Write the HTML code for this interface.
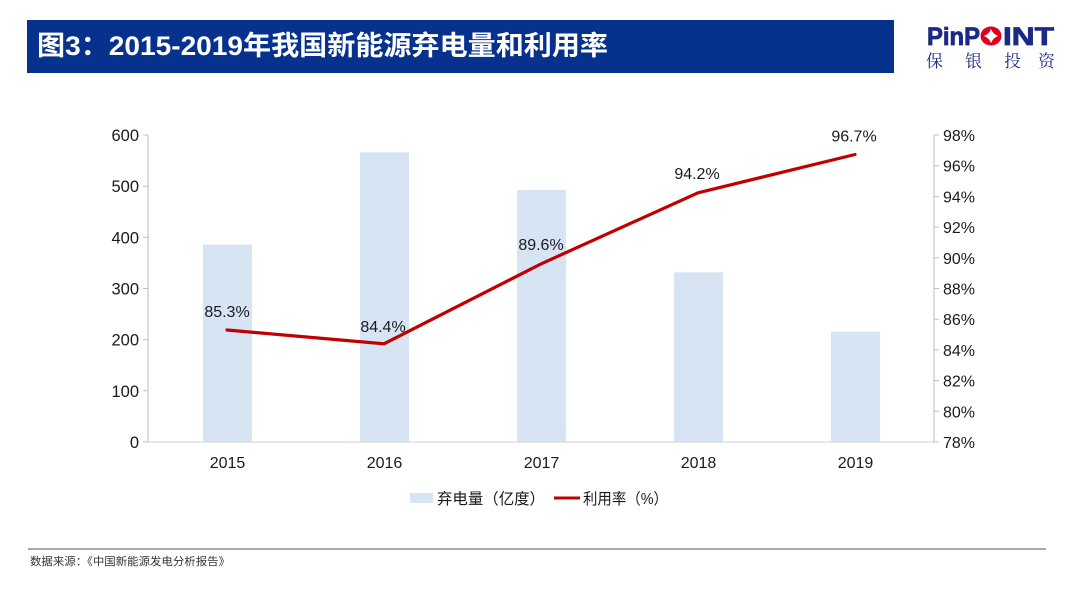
<!DOCTYPE html>
<html>
<head>
<meta charset="utf-8">
<style>
  html, body { margin:0; padding:0; background:#fff; }
  body { width:1080px; height:592px; overflow:hidden; }
  svg { display:block; }
  .t { font-family: "Liberation Sans", "Noto Sans CJK SC", sans-serif; }
</style>
</head>
<body>
<svg width="1080" height="592" viewBox="0 0 1080 592" xmlns="http://www.w3.org/2000/svg">
  <!-- Title bar -->
  <rect x="27" y="20" width="867" height="53" fill="#06318C"/>
  <text x="37" y="55" class="t" font-size="27" font-weight="bold" fill="#ffffff" textLength="571" lengthAdjust="spacingAndGlyphs">图3：2015-2019年我国新能源弃电量和利用率</text>

  <!-- Logo -->
  <text x="927" y="45" font-family="Liberation Sans, sans-serif" font-size="25" font-weight="bold" fill="#1B2B84" stroke="#1B2B84" stroke-width="0.8" textLength="53" lengthAdjust="spacingAndGlyphs">PinP</text>
  <ellipse cx="991" cy="36" rx="10.5" ry="9.5" fill="#E0001B"/>
  <path d="M991 29 Q993 34 998 36 Q993 38 991 43 Q989 38 984 36 Q989 34 991 29 Z" fill="#ffffff"/>
  <text x="1003" y="45" font-family="Liberation Sans, sans-serif" font-size="25" font-weight="bold" fill="#1B2B84" stroke="#1B2B84" stroke-width="0.8" textLength="51" lengthAdjust="spacingAndGlyphs">INT</text>
  <g font-family="Noto Serif CJK SC, Noto Serif CJK JP, IPAGothic, serif" font-size="17" fill="#1B2B84">
    <text x="926" y="67">保</text>
    <text x="965" y="67">银</text>
    <text x="1004" y="67">投</text>
    <text x="1038" y="67">资</text>
  </g>

  <!-- Bars -->
  <g fill="#D7E4F3">
    <rect x="203" y="244.5" width="49" height="197.5"/>
    <rect x="360" y="152.3" width="49" height="289.7"/>
    <rect x="517" y="190" width="49" height="252"/>
    <rect x="674" y="272.3" width="49" height="169.7"/>
    <rect x="831" y="331.7" width="49" height="110.3"/>
  </g>

  <!-- Axes -->
  <line x1="148" y1="442" x2="934" y2="442" stroke="#D9D9D9" stroke-width="1.2"/>
  <line x1="148" y1="135" x2="148" y2="442" stroke="#BFBFBF" stroke-width="1"/>
  <line x1="934" y1="135" x2="934" y2="442" stroke="#BFBFBF" stroke-width="1"/>
  <g stroke="#BFBFBF" stroke-width="1">
    <line x1="143" y1="135" x2="148" y2="135"/>
    <line x1="143" y1="186.2" x2="148" y2="186.2"/>
    <line x1="143" y1="237.3" x2="148" y2="237.3"/>
    <line x1="143" y1="288.5" x2="148" y2="288.5"/>
    <line x1="143" y1="339.7" x2="148" y2="339.7"/>
    <line x1="143" y1="390.8" x2="148" y2="390.8"/>
    <line x1="143" y1="442" x2="148" y2="442"/>
    <line x1="934" y1="135" x2="939" y2="135"/>
    <line x1="934" y1="165.7" x2="939" y2="165.7"/>
    <line x1="934" y1="196.4" x2="939" y2="196.4"/>
    <line x1="934" y1="227.1" x2="939" y2="227.1"/>
    <line x1="934" y1="257.8" x2="939" y2="257.8"/>
    <line x1="934" y1="288.5" x2="939" y2="288.5"/>
    <line x1="934" y1="319.2" x2="939" y2="319.2"/>
    <line x1="934" y1="349.9" x2="939" y2="349.9"/>
    <line x1="934" y1="380.6" x2="939" y2="380.6"/>
    <line x1="934" y1="411.3" x2="939" y2="411.3"/>
    <line x1="934" y1="442" x2="939" y2="442"/>
  </g>

  <!-- Left axis labels -->
  <g class="t" font-size="16.5" fill="#1a1a1a" text-anchor="end">
    <text x="139" y="141">600</text>
    <text x="139" y="192.2">500</text>
    <text x="139" y="243.3">400</text>
    <text x="139" y="294.5">300</text>
    <text x="139" y="345.7">200</text>
    <text x="139" y="396.8">100</text>
    <text x="139" y="448">0</text>
  </g>

  <!-- Right axis labels -->
  <g class="t" font-size="16" fill="#1a1a1a">
    <text x="943" y="141">98%</text>
    <text x="943" y="171.7">96%</text>
    <text x="943" y="202.4">94%</text>
    <text x="943" y="233.1">92%</text>
    <text x="943" y="263.8">90%</text>
    <text x="943" y="294.5">88%</text>
    <text x="943" y="325.2">86%</text>
    <text x="943" y="355.9">84%</text>
    <text x="943" y="386.6">82%</text>
    <text x="943" y="417.3">80%</text>
    <text x="943" y="448">78%</text>
  </g>

  <!-- X labels -->
  <g class="t" font-size="16" fill="#1a1a1a" text-anchor="middle">
    <text x="227.5" y="468">2015</text>
    <text x="384.5" y="468">2016</text>
    <text x="541.5" y="468">2017</text>
    <text x="698.5" y="468">2018</text>
    <text x="855.5" y="468">2019</text>
  </g>

  <!-- Line -->
  <polyline points="227,330 384,343.8 541,263.9 698,192.8 855,154.5" fill="none" stroke="#C00000" stroke-width="3.2" stroke-linejoin="round" stroke-linecap="round"/>

  <!-- Data labels -->
  <g class="t" font-size="16" fill="#1a1a1a" text-anchor="middle">
    <text x="227" y="317">85.3%</text>
    <text x="383" y="332">84.4%</text>
    <text x="541" y="250">89.6%</text>
    <text x="697" y="179">94.2%</text>
    <text x="854" y="141.5">96.7%</text>
  </g>

  <!-- Legend -->
  <rect x="410" y="493" width="23" height="10" fill="#D7E4F3"/>
  <text x="437" y="504" class="t" font-size="15.5" fill="#1a1a1a" textLength="108" lengthAdjust="spacingAndGlyphs">弃电量（亿度）</text>
  <line x1="554" y1="498" x2="580" y2="498" stroke="#C00000" stroke-width="3"/>
  <text x="583" y="504" class="t" font-size="15.5" fill="#1a1a1a" textLength="85" lengthAdjust="spacingAndGlyphs">利用率（%）</text>

  <!-- Footer -->
  <line x1="28" y1="549" x2="1046" y2="549" stroke="#8C8C8C" stroke-width="1.5"/>
  <text x="30" y="565" class="t" font-size="11" fill="#333333" textLength="200" lengthAdjust="spacingAndGlyphs">数据来源：《中国新能源发电分析报告》</text>
</svg>
</body>
</html>
